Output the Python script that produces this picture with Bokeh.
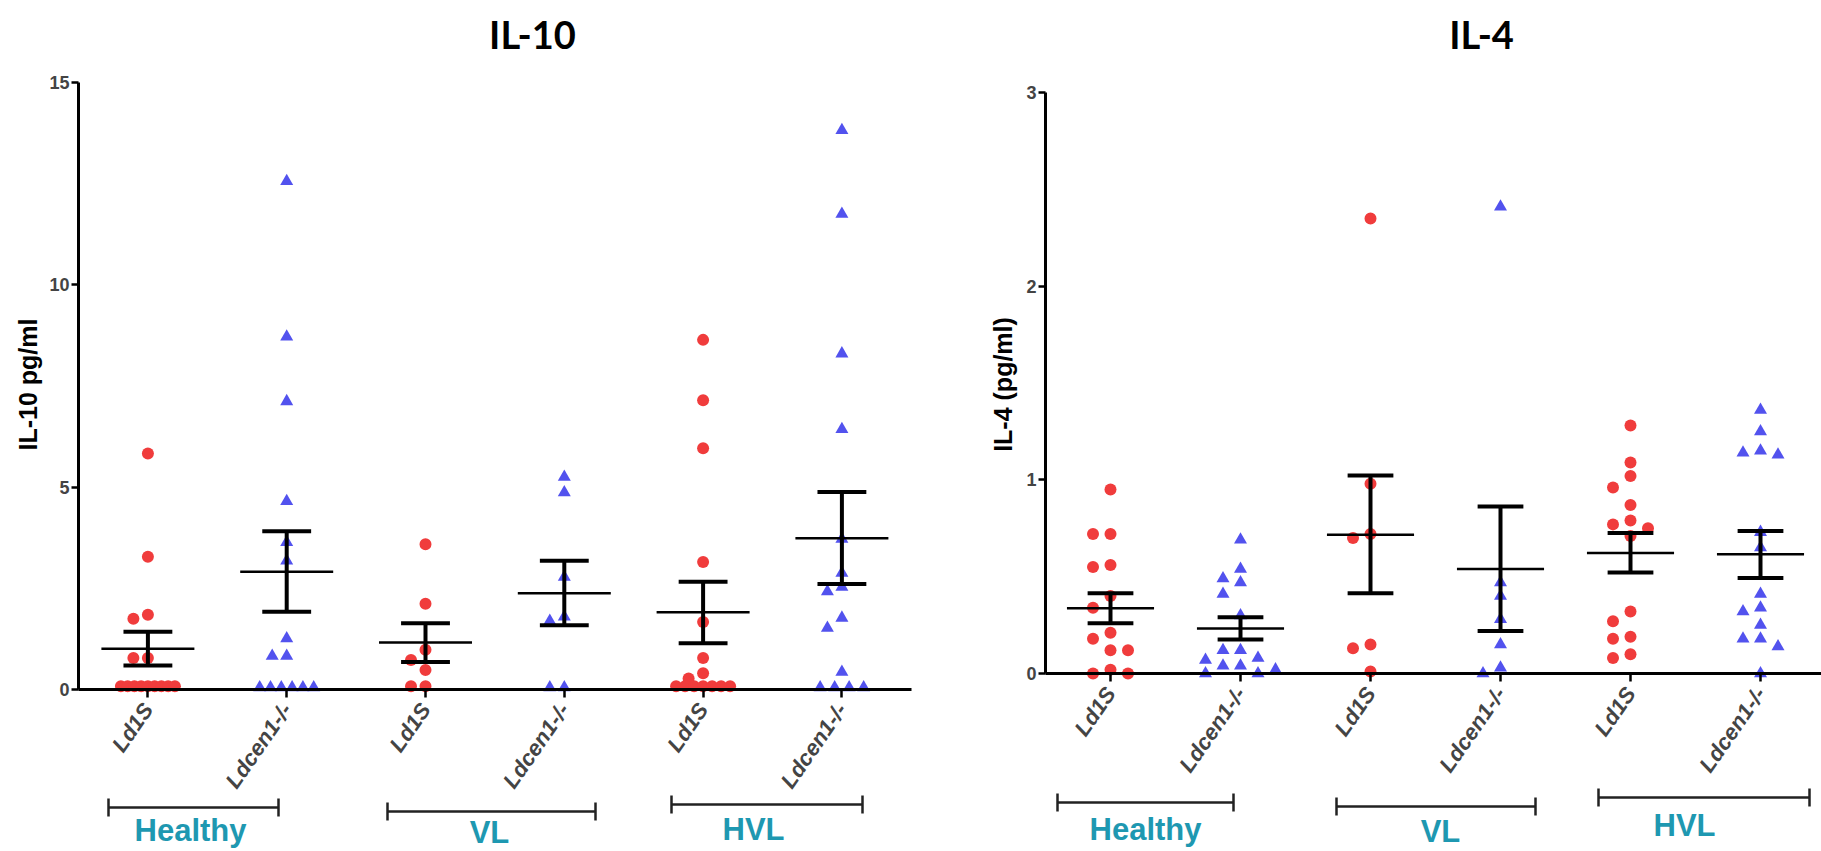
import math
from collections import Counter
from bokeh.plotting import figure
from bokeh.layouts import row
from bokeh.models import FixedTicker, Label, ColumnDataSource
from bokeh.core.properties import value
from bokeh.embed import file_html
from bokeh.resources import INLINE

# ---------------- data ----------------
categories = ["Ld1S", "Ldcen1-/-", "Ld1S", "Ldcen1-/-", "Ld1S", "Ldcen1-/-"]
groups = ["Healthy", "VL", "HVL"]

# IL-10 (pg/ml)
il10_healthy_ld1s = [5.83, 3.28, 1.85, 1.75, 0.78, 0.78, 0.08, 0.08, 0.08, 0.08, 0.08, 0.08, 0.08, 0.08, 0.08]
il10_healthy_ldcen1 = [12.56, 8.72, 7.12, 4.65, 3.64, 3.18, 1.26, 0.83, 0.83, 0.05, 0.05, 0.05, 0.05, 0.05, 0.05]
il10_vl_ld1s = [3.59, 2.12, 0.98, 0.73, 0.48, 0.08, 0.08]
il10_vl_ldcen1 = [5.25, 4.87, 2.78, 1.80, 1.69, 0.05, 0.05]
il10_hvl_ld1s = [8.64, 7.15, 5.96, 3.15, 1.67, 0.78, 0.40, 0.27, 0.08, 0.08, 0.08, 0.08, 0.08, 0.08, 0.08]
il10_hvl_ldcen1 = [13.82, 11.75, 8.30, 6.43, 3.72, 2.88, 2.53, 2.42, 1.77, 1.52, 0.43, 0.05, 0.05, 0.05, 0.05]
il10_mean = [1.01, 2.91, 1.16, 2.38, 1.91, 3.74]
il10_upper = [1.43, 3.91, 1.64, 3.18, 2.66, 4.88]
il10_lower = [0.59, 1.92, 0.68, 1.59, 1.14, 2.61]
il10_ticks = [0, 5, 10, 15]

# IL-4 (pg/ml)
il4_healthy_ld1s = [0.95, 0.72, 0.72, 0.56, 0.55, 0.40, 0.34, 0.21, 0.18, 0.12, 0.12, 0.02, 0.0, 0.0]
il4_healthy_ldcen1 = [0.69, 0.54, 0.49, 0.47, 0.41, 0.30, 0.12, 0.12, 0.08, 0.07, 0.04, 0.04, 0.02, 0.0, 0.0]
il4_vl_ld1s = [2.35, 0.98, 0.72, 0.70, 0.15, 0.13, 0.01]
il4_vl_ldcen1 = [2.41, 0.47, 0.40, 0.28, 0.15, 0.03, 0.0]
il4_hvl_ld1s = [1.28, 1.09, 1.02, 0.96, 0.87, 0.79, 0.77, 0.75, 0.71, 0.32, 0.27, 0.19, 0.18, 0.10, 0.08]
il4_hvl_ldcen1 = [1.36, 1.25, 1.15, 1.14, 1.13, 0.73, 0.65, 0.41, 0.34, 0.32, 0.25, 0.18, 0.18, 0.14, 0.0]
il4_mean = [0.337, 0.232, 0.717, 0.540, 0.622, 0.616]
il4_upper = [0.415, 0.291, 1.023, 0.862, 0.725, 0.736]
il4_lower = [0.259, 0.175, 0.415, 0.219, 0.521, 0.493]
il4_ticks = [0, 1, 2, 3]

RED = "#f03c3c"
BLUE = "#5252ee"
TEAL = "#1e98b1"
SANS = "Liberation Sans"


def swarm(vals, cat, ppx, ppy, step_px, dmin_px, maxw_px):
    """GraphPad-like scatter layout: returns x positions for each value."""
    n = len(vals)
    offs = [None] * n
    placed = []          # (x_px, y_px, is_row)
    cnt = Counter(vals)
    for v, c in cnt.items():
        if c >= 4:
            idxs = [i for i, x in enumerate(vals) if x == v]
            sp = min(step_px, maxw_px / (c - 1))
            for k, i in enumerate(idxs):
                o = (k - (c - 1) / 2) * sp
                offs[i] = o
                placed.append((o, v * ppy, True))
    order = sorted([i for i in range(n) if offs[i] is None], key=lambda i: -vals[i])
    cands = [0]
    for j in range(1, 30):
        cands += [-j, j]
    for i in order:
        y = vals[i] * ppy
        o = 0
        for c in cands:
            o = c * step_px
            ok = True
            for px, py, is_row in placed:
                d = 6 if is_row else dmin_px
                if (o - px) ** 2 + (y - py) ** 2 < d ** 2:
                    ok = False
                    break
            if ok:
                break
        offs[i] = o
        placed.append((o, y, False))
    return [cat + o / ppx for o in offs]


def make_panel(series, mean, upper, lower, ticks, ylabel, title,
               fig_x0, fig_x1, axis_x_px, axis_end_px, y_top_px, y_zero_px,
               spacing, step_px, maxw_px, title_px, ylabel_px, brackets_px, labels_px):
    H = 851
    ymax = ticks[-1]
    ppy = (y_zero_px - y_top_px) / ymax
    fw = fig_x1 - fig_x0
    ppx = spacing
    x_axis_start = -0.5
    x_start = x_axis_start - (axis_x_px - fig_x0) / ppx
    x_end = x_start + fw / ppx
    x_axis_end = x_axis_start + (axis_end_px - axis_x_px) / ppx
    y_start = -(H - y_zero_px) / ppy
    y_end = ymax + y_top_px / ppy

    p = figure(frame_width=fw, frame_height=H,
               x_range=(x_start, x_end), y_range=(y_start, y_end),
               output_backend="svg", toolbar_location=None, min_border=0)
    p.outline_line_color = None
    p.xgrid.visible = False
    p.ygrid.visible = False
    p.background_fill_color = "white"
    p.border_fill_color = "white"

    def to_data(px, py):
        return (x_start + (px - fig_x0) / ppx, (y_zero_px - py) / ppy)

    # y axis, drawn at the left end of the x axis
    ya = p.yaxis[0]
    ya.fixed_location = x_axis_start
    ya.bounds = (0, ymax)
    ya.ticker = FixedTicker(ticks=ticks, minor_ticks=[])
    ya.axis_line_width = 3
    ya.axis_line_color = "black"
    ya.major_tick_line_width = 2.5
    ya.major_tick_out = 7
    ya.major_tick_in = 0
    ya.minor_tick_line_color = None
    ya.major_label_text_font = SANS
    ya.major_label_text_font_style = "bold"
    ya.major_label_text_font_size = "18px"
    ya.major_label_standoff = 2

    # x axis placed at y = 0
    xa = p.xaxis[0]
    xa.fixed_location = 0
    xa.bounds = (x_axis_start, x_axis_end)
    xa.ticker = FixedTicker(ticks=list(range(len(categories))), minor_ticks=[])
    xa.major_label_overrides = {i: c for i, c in enumerate(categories)}
    xa.axis_line_width = 3
    xa.major_tick_line_width = 2.5
    xa.major_tick_out = 8
    xa.major_tick_in = 0
    xa.minor_tick_line_color = None
    xa.major_label_orientation = 0.96
    xa.major_label_text_font = SANS
    xa.major_label_text_font_style = "bold italic"
    xa.major_label_text_font_size = "22px"
    xa.major_label_standoff = 8

    # y-axis title, centred on the axis bounds
    lx, ly = to_data(*ylabel_px)
    p.add_layout(Label(x=lx, y=ly, text=ylabel, angle=math.pi / 2,
                       text_align="center", text_baseline="middle",
                       text_font=SANS, text_font_style="bold", text_font_size="25px",
                       text_color="black"))

    # scatter points
    for k, vals in enumerate(series):
        xs = swarm(vals, k, ppx, ppy, step_px, 12, maxw_px)
        src = ColumnDataSource(dict(x=xs, y=vals))
        if k % 2 == 0:
            p.scatter("x", "y", source=src, marker="circle", size=12,
                      fill_color=RED, line_color=None)
        else:
            p.scatter("x", "y", source=src, marker="triangle", size=13,
                      fill_color=BLUE, line_color=None)

    # mean +/- SEM
    idx = list(range(len(mean)))
    es = ColumnDataSource(dict(
        ml=[i - 0.335 for i in idx], mr=[i + 0.335 for i in idx],
        cl=[i - 0.176 for i in idx], cr=[i + 0.176 for i in idx],
        x=idx, mean=mean, up=upper, lo=lower))
    p.segment(x0="ml", x1="mr", y0="mean", y1="mean", source=es, line_color="black", line_width=2.5)
    p.segment(x0="cl", x1="cr", y0="up", y1="up", source=es, line_color="black", line_width=4)
    p.segment(x0="cl", x1="cr", y0="lo", y1="lo", source=es, line_color="black", line_width=4)
    p.segment(x0="x", x1="x", y0="lo", y1="up", source=es, line_color="black", line_width=4)

    # group brackets and labels
    bx0, bx1, by, bcy0, bcy1 = [], [], [], [], []
    for (px0, px1, py) in brackets_px:
        x0, y = to_data(px0, py)
        x1, _ = to_data(px1, py)
        _, ya0 = to_data(px0, py - 9)
        _, ya1 = to_data(px0, py + 9)
        bx0.append(x0); bx1.append(x1); by.append(y); bcy0.append(ya0); bcy1.append(ya1)
    bs = ColumnDataSource(dict(x0=bx0, x1=bx1, y=by, c0=bcy0, c1=bcy1))
    p.segment(x0="x0", x1="x1", y0="y", y1="y", source=bs, line_color="#222222", line_width=2.5)
    p.segment(x0="x0", x1="x0", y0="c0", y1="c1", source=bs, line_color="#222222", line_width=2.5)
    p.segment(x0="x1", x1="x1", y0="c0", y1="c1", source=bs, line_color="#222222", line_width=2.5)

    gx, gy = [], []
    for (px, py) in labels_px:
        x, y = to_data(px, py)
        gx.append(x); gy.append(y)
    p.text(x=gx, y=gy, text=groups, text_align="center", text_baseline="middle",
           text_color=TEAL, text_font=value(SANS), text_font_style="bold",
           text_font_size="31px")

    tx, ty = to_data(*title_px)
    p.add_layout(Label(x=tx, y=ty, text=title, text_align="center", text_baseline="middle",
                       text_font="Lato", text_font_style="bold", text_font_size="38px",
                       text_color="black"))
    return p


left = make_panel(
    [il10_healthy_ld1s, il10_healthy_ldcen1, il10_vl_ld1s, il10_vl_ldcen1, il10_hvl_ld1s, il10_hvl_ldcen1],
    il10_mean, il10_upper, il10_lower, il10_ticks, "IL-10 pg/ml", "IL-10",
    fig_x0=0, fig_x1=960, axis_x_px=78, axis_end_px=911, y_top_px=82, y_zero_px=689,
    spacing=138.8, step_px=14.5, maxw_px=54, title_px=(532, 33), ylabel_px=(27, 384),
    brackets_px=[(108, 278, 807), (387, 595, 811), (671, 862, 804)],
    labels_px=[(190, 830), (489, 832), (753, 829)])

right = make_panel(
    [il4_healthy_ld1s, il4_healthy_ldcen1, il4_vl_ld1s, il4_vl_ldcen1, il4_hvl_ld1s, il4_hvl_ldcen1],
    il4_mean, il4_upper, il4_lower, il4_ticks, "IL-4 (pg/ml)", "IL-4",
    fig_x0=960, fig_x1=1821, axis_x_px=1045, axis_end_px=1821, y_top_px=92, y_zero_px=673,
    spacing=130.0, step_px=17.5, maxw_px=54, title_px=(1481, 33), ylabel_px=(1002, 384),
    brackets_px=[(1057, 1233, 802), (1336, 1535, 806), (1598, 1809, 797)],
    labels_px=[(1145, 829), (1440, 831), (1684, 825)])

layout = row(left, right, spacing=0)
open("out.html", "w").write(file_html(layout, INLINE))
